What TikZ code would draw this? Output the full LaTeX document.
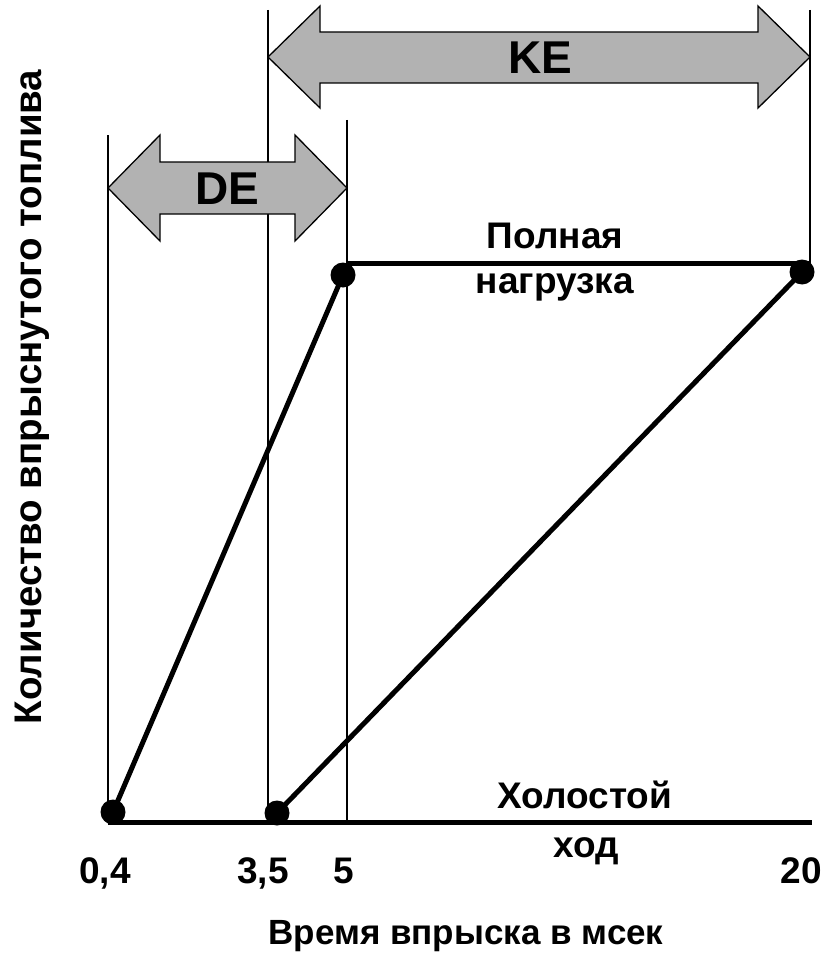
\documentclass[tikz,border=0pt]{standalone}
\usepackage{fontspec}
\setmainfont{Liberation Sans}
\begin{document}
\begin{tikzpicture}[x=1pt,y=-1pt,
  thinline/.style={line width=1.2pt,black},
  thickline/.style={line width=5pt,black},
  dot/.style={circle,fill=black,inner sep=0pt,minimum size=25pt},
  lbl/.style={font=\bfseries\fontsize{37}{40}\selectfont,inner sep=0pt},
  biglbl/.style={font=\bfseries\fontsize{46}{50}\selectfont,inner sep=0pt},
  arrowshape/.style={fill=gray!60,draw=black,line width=1.3pt,line join=miter}]
\useasboundingbox (0,0) rectangle (823,955);
% vertical guide lines
\coordinate (v1t) at (108,135); \coordinate (v1b) at (108,822);
\coordinate (v2t) at (268,10);  \coordinate (v2b) at (268,822);
\coordinate (v3t) at (347,120); \coordinate (v3b) at (347,822);
\coordinate (v4t) at (810,10);  \coordinate (v4b) at (810,263);
\draw[thinline] (v1t)--(v1b) (v2t)--(v2b) (v3t)--(v3b) (v4t)--(v4b);
% double arrows
\draw[arrowshape] (108,188)--(160,135)--(160,162)--(295,162)--(295,135)--(347,188)
  --(295,241)--(295,214)--(160,214)--(160,241)--cycle;
\node[biglbl] (de) at (227,189) {DE};
\draw[arrowshape] (268,57)--(320,6)--(320,32)--(758,32)--(758,6)--(810,57)
  --(758,108)--(758,83)--(320,83)--(320,108)--cycle;
\node[biglbl] (ke) at (540,58) {KE};
% horizontal lines
\coordinate (h1l) at (347,263); \coordinate (h1r) at (810,263);
\coordinate (h2l) at (108,822); \coordinate (h2r) at (812,822);
\draw[thickline] (h1l)--(h1r);
\draw[thickline] (h2l)--(h2r);
% points
\node[dot] (a) at (113,812) {};
\node[dot] (b) at (343,275) {};
\node[dot] (c) at (277,813) {};
\node[dot] (d) at (802,272) {};
\draw[thickline] (a.center)--(b.center);
\draw[thickline] (c.center)--(d.center);
% labels
\node[lbl,anchor=base] (p1) at (555,248) {Полная};
\node[lbl,anchor=base] (p2) at (555,293) {нагрузка};
\node[lbl,anchor=base] (x1) at (585,808) {Холостой};
\node[lbl,anchor=base] (x2) at (586,857) {ход};
\node[lbl,anchor=base] (t1) at (105,883) {0,4};
\node[lbl,anchor=base] (t2) at (263,883) {3,5};
\node[lbl,anchor=base] (t3) at (344,883) {5};
\node[lbl,anchor=base] (t4) at (801,883) {20};
\node[font=\bfseries\fontsize{35}{38}\selectfont,inner sep=0pt,anchor=base] (xl) at (466,944) {Время впрыска в мсек};
\node[font=\bfseries\fontsize{38.5}{42}\selectfont,inner sep=0pt,anchor=base,rotate=90] (yl) at (41,397) {Количество впрыснутого топлива};
\end{tikzpicture}
\end{document}
